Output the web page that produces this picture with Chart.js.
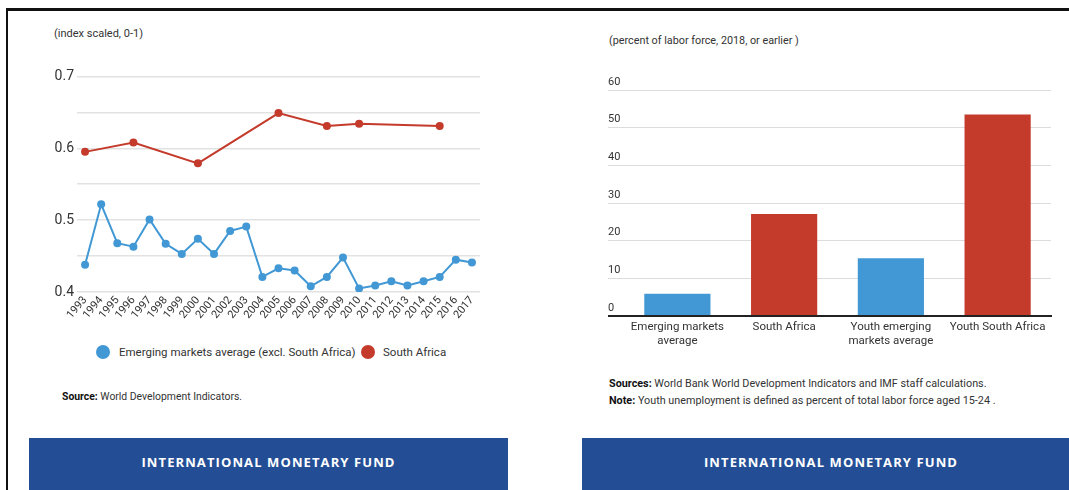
<!DOCTYPE html>
<html>
<head>
<meta charset="utf-8">
<title>South Africa: inclusion index and unemployment</title>
<script src="https://cdn.jsdelivr.net/npm/chart.js@4.4.1/dist/chart.umd.min.js"></script>
<style>
  html, body { margin: 0; padding: 0; background: #fff; }
  body {
    width: 1069px; height: 490px; position: relative; overflow: hidden;
    font-family: Roboto, "Noto Sans", sans-serif; color: #333;
  }
  .frame-top  { position: absolute; left: 6px; top: 8px; width: 1063px; height: 3px; background: #111; }
  .frame-left { position: absolute; left: 6px; top: 8px; width: 2px; height: 482px; background: #111; }
  .txt { position: absolute; white-space: nowrap; font-size: 10.8px; line-height: 12px; color: #333; }
  .txt b { color: #111; }
  .box { position: absolute; }
  .legend { position: absolute; top: 345px; height: 14px; font-size: 11.5px; line-height: 14px; white-space: nowrap; }
  .dot { position: absolute; width: 14px; height: 14px; border-radius: 50%; }
  .banner {
    position: absolute; top: 438px; height: 52px; background: #234e96; color: #fff;
    font-family: "Open Sans", sans-serif; font-weight: 700; font-size: 13px;
    letter-spacing: 1.1px; text-align: center; line-height: 49px;
  }
</style>
</head>
<body>
<div class="frame-top"></div>
<div class="frame-left"></div>

<!-- left panel: index line chart -->
<div class="txt" style="left:54px; top:28px; font-size:11px;">(index scaled, 0-1)</div>
<div class="box" style="left:40px; top:65px; width:450px; height:263px;"><canvas id="lineChart"></canvas></div>
<div id="legend"></div>
<div class="txt" style="left:62px; top:391px; font-size:10.4px;"><b>Source:</b> World Development Indicators.</div>
<div class="banner" style="left:29px; width:479px;">INTERNATIONAL MONETARY FUND</div>

<!-- right panel: unemployment bars -->
<div class="txt" style="left:609px; top:35px;">(percent of labor force, 2018, or earlier )</div>
<div class="box" style="left:600px; top:70px; width:460px; height:276px;"><canvas id="barChart"></canvas></div>
<div class="txt" style="left:609px; top:378px;"><b>Sources:</b> World Bank World Development Indicators and IMF staff calculations.</div>
<div class="txt" style="left:609px; top:395px;"><b>Note:</b> Youth unemployment is defined as percent of total labor force aged 15-24 .</div>
<div class="banner" style="left:582px; width:498px;">INTERNATIONAL MONETARY FUND</div>

<script>
// --- data ---
const years = ['1993', '1994', '1995', '1996', '1997', '1998', '1999', '2000', '2001', '2002',
  '2003', '2004', '2005', '2006', '2007', '2008', '2009', '2010', '2011', '2012',
  '2013', '2014', '2015', '2016', '2017'];
const emergingAvg = [0.438, 0.522, 0.468, 0.463, 0.501, 0.467, 0.453, 0.474, 0.453, 0.485,
  0.491, 0.421, 0.433, 0.430, 0.408, 0.421, 0.448, 0.405, 0.409, 0.415,
  0.409, 0.415, 0.421, 0.445, 0.441];
// South Africa is only observed in some years
const southAfrica = [0.595, null, null, 0.608, null, null, null, 0.579, null, null,
  null, null, 0.649, null, null, 0.631, null, 0.634, null, null,
  null, null, 0.631, null, null];
const lineTickLabels = ['0.4', '0.5', '0.6', '0.7'];

const groups = [['Emerging markets', 'average'], 'South Africa', ['Youth emerging', 'markets average'], 'Youth South Africa'];
const unemployment = [5.9, 27.1, 15.3, 53.5];
const barTicks = [0, 10, 20, 30, 40, 50, 60];

const BLUE = '#4298d4';
const RED = '#c43b2c';
const barColors = [BLUE, RED, BLUE, RED];

// --- legend for the line chart ---
const legendItems = [
  { text: 'Emerging markets average (excl. South Africa)', color: BLUE, dot: 96, label: 119 },
  { text: 'South Africa', color: RED, dot: 361, label: 383 },
];
document.getElementById('legend').innerHTML = legendItems.map(it => `
  <div class="dot" style="left:${it.dot}px; top:345px; background:${it.color};"></div>
  <div class="legend" style="left:${it.label}px;">${it.text}</div>`).join('');

// --- line chart ---
new Chart(document.getElementById('lineChart'), {
  type: 'line',
  data: {
    labels: years,
    datasets: [
      { label: legendItems[0].text, data: emergingAvg, borderColor: BLUE, backgroundColor: BLUE,
        borderWidth: 2, pointRadius: 4, pointBorderWidth: 0, tension: 0 },
      { label: legendItems[1].text, data: southAfrica, spanGaps: true, borderColor: RED, backgroundColor: RED,
        borderWidth: 2, pointRadius: 4, pointBorderWidth: 0, tension: 0 },
    ],
  },
  options: {
    responsive: true,
    maintainAspectRatio: false,
    animation: false,
    layout: { padding: { top: 10, right: 10, left: 0, bottom: 0 } },
    plugins: { legend: { display: false }, tooltip: { enabled: false } },
    scales: {
      x: {
        offset: true,
        grid: { display: false, drawTicks: false },
        border: { display: false },
        ticks: { autoSkip: false, minRotation: 50, maxRotation: 50, padding: 2, color: '#333',
                 font: { family: 'Roboto', size: 11 } },
        afterFit: s => { s.height = 36; },
      },
      y: {
        min: 0.4,
        max: 0.7,
        border: { display: false },
        grid: { color: '#e2e2e2', lineWidth: 1.5, drawTicks: false },
        ticks: {
          stepSize: 0.05,
          padding: 3,
          color: '#333',
          font: { family: 'Roboto', size: 14 },
          callback: v => {
            const s = v.toFixed(1);
            return lineTickLabels.includes(s) && Math.abs(v - parseFloat(s)) < 1e-6 ? s : '';
          },
        },
        afterFit: s => { s.width = 37; },
      },
    },
  },
});

// --- bar chart ---
new Chart(document.getElementById('barChart'), {
  type: 'bar',
  data: {
    labels: groups,
    datasets: [{ data: unemployment, backgroundColor: barColors, categoryPercentage: 1, barPercentage: 0.62 }],
  },
  options: {
    responsive: true,
    maintainAspectRatio: false,
    animation: false,
    layout: { padding: { top: 20, right: 9, left: 8, bottom: 0 } },
    plugins: { legend: { display: false }, tooltip: { enabled: false } },
    scales: {
      x: {
        grid: { display: false, drawTicks: false },
        border: { display: true, color: '#222', width: 2, z: 1 },
        ticks: { autoSkip: false, maxRotation: 0, padding: 4, color: '#333',
                 font: { family: 'Roboto', size: 11.5, lineHeight: 1.22 } },
        afterFit: s => { s.height = 30; },
      },
      y: {
        min: barTicks[0],
        max: barTicks[barTicks.length - 1],
        border: { display: false },
        grid: {
          color: c => (c.tick && c.tick.value === 0 ? '#222' : '#dcdcdc'),
          lineWidth: c => (c.tick && c.tick.value === 0 ? 2 : 1),
          drawTicks: true,
          tickLength: 16,
        },
        ticks: { stepSize: 10, crossAlign: 'far', padding: 0, labelOffset: -8, color: '#333',
                 font: { family: 'Roboto', size: 11 } },
        afterFit: s => { s.width = 16; },
      },
    },
  },
});
</script>
</body>
</html>
